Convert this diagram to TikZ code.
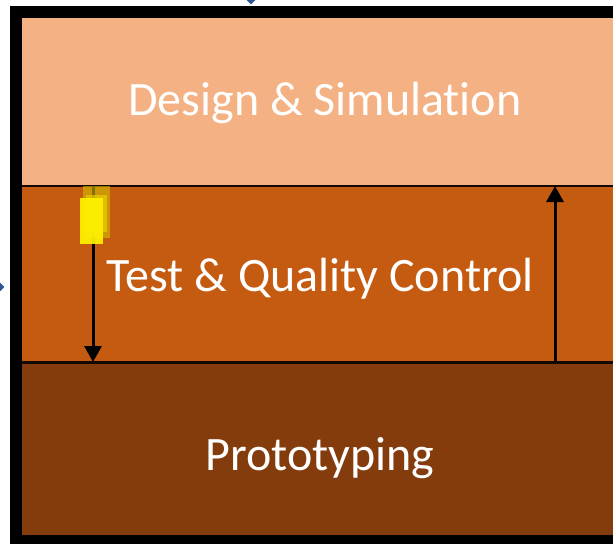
\documentclass[tikz,border=0pt]{standalone}
\usepackage{fontspec}
\setmainfont{Carlito}[RawFeature={-liga;-clig;-dlig}]
\usetikzlibrary{arrows.meta,shapes.geometric}
\definecolor{peach}{HTML}{F4B183}
\definecolor{rust}{HTML}{C55A11}
\definecolor{umber}{HTML}{843C0C}
\definecolor{markblue}{HTML}{2F5597}
\tikzset{
  band/.style={draw=none, minimum width=591pt, inner sep=0pt, anchor=north west},
  label/.style={text=white, font=\fontsize{48}{52}\selectfont},
  divider/.style={line width=2.4pt, draw=black!85!umber},
  flow/.style={line width=3pt, -{Triangle[width=17pt,length=16pt]}},
  marker/.style={diamond, fill=markblue, inner sep=0pt, minimum size=9pt},
  highlight/.style={draw=none}
}
\begin{document}
\begin{tikzpicture}[x=1pt,y=-1pt]
\useasboundingbox (0,0) rectangle (613,544);
\fill[white] (0,0) rectangle (613,544);
% black frame: top, left and bottom edges
\fill[black] (10,6) rectangle (613,544);
% the three layers
\node[band, fill=peach, minimum height=168pt] (design) at (22,18) {};
\node[band, fill=rust, minimum height=176pt] (test) at (22,186) {};
\node[band, fill=umber, minimum height=173pt] (proto) at (22,362) {};
\node[label] (designlbl) at (325,103) {Design \& Simulation};
\node[label] (testlbl) at (320,279) {Test \& Quality Control};
\node[label] (protolbl) at (320,458) {Prototyping};
% layer boundaries
\draw[divider] (test.north west) -- (test.north east);
\draw[divider] (test.south west) -- (test.south east);
% flow between layers
\coordinate (downtop) at (93,186);
\coordinate (downbot) at (93,362);
\coordinate (uptop) at (555,186);
\coordinate (upbot) at (555,362);
\draw[flow] (downtop) -- (downbot);
\draw[flow] (upbot) -- (uptop);
% highlight marks
\fill[highlight, fill={rgb,255:red,210;green,190;blue,0}, opacity=0.6] (83,186) rectangle (110,238);
\fill[highlight, fill={rgb,255:red,235;green,205;blue,0}, opacity=0.7] (86,195) rectangle (107,232);
\fill[highlight, fill=yellow, opacity=0.92] (80,198) rectangle (103,244);
% small markers at the edges
\node[marker] (mtop) at (251,0) {};
\node[marker] (mleft) at (0,287) {};
\end{tikzpicture}
\end{document}
